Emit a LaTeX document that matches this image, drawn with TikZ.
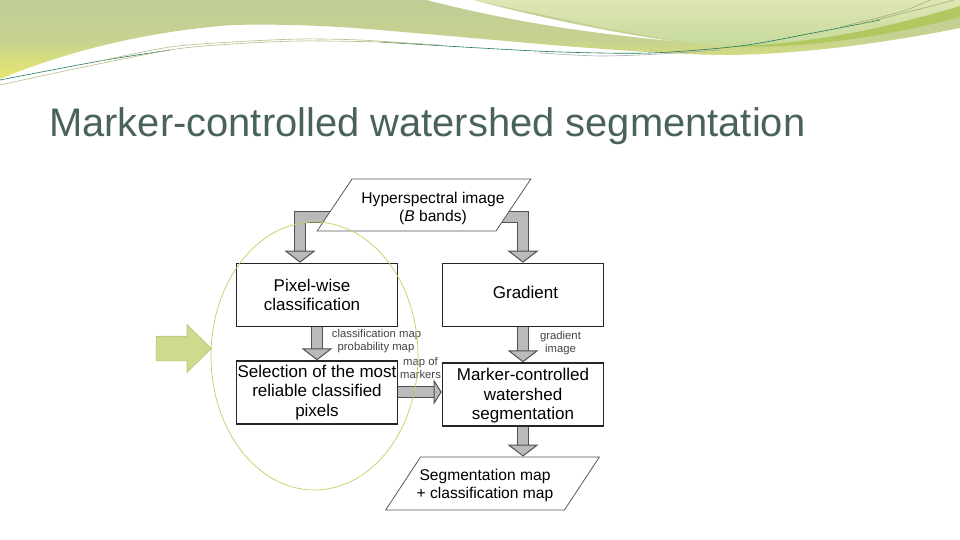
\documentclass[tikz,border=0pt]{standalone}
\usepackage{fontspec}
\setmainfont{Liberation Sans}
\usetikzlibrary{arrows.meta,positioning,backgrounds,shapes.geometric,shapes.arrows}
\definecolor{titlegreen}{HTML}{4A6358}
\definecolor{arrowgray}{HTML}{BABABA}
\definecolor{arrowedge}{HTML}{505050}
\definecolor{ringolive}{HTML}{C2CE5E}
\definecolor{pointerfill}{HTML}{D0DA8E}
\definecolor{pointeredge}{HTML}{B9C672}
\definecolor{labelgray}{HTML}{444444}
\definecolor{bandtop}{HTML}{BFCD96}
\definecolor{bandmid}{HTML}{C6D28F}
\definecolor{bandlow}{HTML}{E6E86E}
\definecolor{paletop}{HTML}{DFE6B5}
\definecolor{palelow}{HTML}{C6DA9B}
\definecolor{leafgreen}{HTML}{B0C85F}
\definecolor{linegreen}{HTML}{1F7A5C}
\definecolor{lineolive}{HTML}{B4BC86}
\definecolor{linegray}{HTML}{A8ADB0}
\definecolor{linesage}{HTML}{9FB27C}
\newcommand{\slanttext}[3]{\makebox[136pt]{\rule[-16.5pt]{0pt}{33pt}\hspace{#1}\smash{\raisebox{#2}{\begin{tabular}{@{}c@{}}#3\end{tabular}}}}}
\tikzset{procbox/.style={draw=black!85, rectangle, line width=1.6pt, minimum width=161pt,
  minimum height=63pt, inner sep=0pt, align=center, font=\fontsize{17}{19.6}\selectfont}}
\tikzset{dataslant/.style={draw=black!65, trapezium, trapezium left angle=45, trapezium right angle=135,
  trapezium stretches=true, fill=white, line width=0.8pt, minimum width=214pt, minimum height=52pt,
  inner sep=0pt, font=\fontsize{15.6}{18}\selectfont}}
\tikzset{blockarrow/.style={draw=arrowedge, line width=1pt, double=arrowgray, double distance=10.5pt,
  -{Triangle[length=12pt, width=31pt, fill=arrowgray, line width=1pt]}}}
\tikzset{maplabel/.style={text=labelgray, inner sep=0pt, align=center, font=\fontsize{11.3}{13}\selectfont}}
\tikzset{thinline/.style={line width=0.6pt}}

\begin{document}
\begin{tikzpicture}[x=1pt, y=-1pt]
  \useasboundingbox (0,0) rectangle (960,540);

  % header bands
  \shade[top color=bandtop, bottom color=bandlow, middle color=bandmid]
    (0,0) -- (960,0) -- (960,28) .. controls (880,44) and (800,54) .. (730,55)
    .. controls (640,55) and (480,38) .. (367,29)
    .. controls (320,25) and (270,24) .. (233,25)
    .. controls (150,31) and (70,50) .. (0,79) -- cycle;
  \shade[top color=paletop, bottom color=palelow]
    (473,0) -- (960,0) -- (960,8) .. controls (880,30) and (800,46) .. (720,46)
    .. controls (690,44) and (660,38) .. (600,27) -- cycle;
  \fill[white] (427,0) -- (473,0) .. controls (540,18) and (620,34) .. (672,41)
    .. controls (600,34) and (520,24) .. (427,0) -- cycle;
  \fill[leafgreen] (960,6) .. controls (880,30) and (800,46) .. (725,46)
    .. controls (800,50) and (890,36) .. (960,17) -- cycle;
  % header lines
  \draw[thinline, linegreen] plot[smooth] coordinates {(0,80) (100,61) (170,50)};
  \draw[thinline, linegreen] plot[smooth] coordinates {(380,42) (480,48) (560,52) (650,53) (740,46) (813,33) (880,20)};
  \draw[thinline, lineolive] plot[smooth] coordinates {(0,85) (60,72) (170,50) (233,44) (300,41) (380,42) (440,45)};
  \draw[thinline, lineolive] plot[smooth] coordinates {(100,61) (170,47) (233,42) (300,39) (360,40) (420,44)};
  \draw[thinline, linegray] plot[smooth] coordinates {(540,53) (600,56) (660,54) (720,50)};
  \draw[thinline, linesage] plot[smooth] coordinates {(840,27) (900,12) (930,0)};
  \draw[thinline, linesage] plot[smooth] coordinates {(860,24) (920,9) (954,0)};

  % title
  \node[text=titlegreen, anchor=base west, inner sep=0pt, font=\fontsize{39.9}{44}\selectfont] (title)
    at (49,136.5) {Marker-controlled watershed segmentation};

  % boxes
  \node[dataslant] (image) at (424,205) {\slanttext{18pt}{-7pt}{Hyperspectral image\\(\textit{B} bands)}};
  \node[procbox] (pixel) at (317,295) {Pixel-wise\hspace*{10pt}\\classification\hspace*{10pt}};
  \node[procbox, right=43.4pt of pixel] (gradient) {\hspace*{5pt}Gradient\rule[-6pt]{0pt}{6pt}};
  \node[procbox, below=33pt of pixel] (select) {Selection of the most\\reliable classified\\pixels};
  \node[procbox, right=43.4pt of select, yshift=-2pt] (marker) {\rule{0pt}{15pt}Marker-controlled\\watershed\\segmentation};
  \node[dataslant, minimum height=53pt] (result) at (492.5,483.5) {\slanttext{-15pt}{-6pt}{Segmentation map\\+ classification map}};

  % block arrows
  \begin{scope}[on background layer]
    \draw[blockarrow] ([yshift=-12pt]image.center) -| ([xshift=-17pt]pixel.north);
    \draw[blockarrow] ([yshift=-12pt]image.center) -| (gradient.north);
    \draw[blockarrow] (pixel) -- (select);
    \draw[blockarrow] (gradient) -- (marker);
    \draw[blockarrow] (marker) -- (result.north -| marker);
    \draw[blockarrow, -{Triangle[length=8pt, width=25pt, fill=arrowgray, line width=1pt]}]
      (select.east |- 0,392) -- (marker.west |- 0,392);
  \end{scope}

  % labels
  \node[maplabel] (mapa) at (376.5,335) {classification map};
  \node[maplabel] (mapb) at (376,348) {probability map};
  \node[maplabel] (mapc) at (420.5,367.5) {map of\\markers};
  \node[maplabel] (mapd) at (560.5,343) {gradient\\image};

  % highlight
  \node[draw=ringolive, ellipse, line width=0.7pt, minimum width=207pt, minimum height=268pt, inner sep=0pt] (ring) at (314.5,356) {};
  \node[single arrow, draw=pointeredge, fill=pointerfill, line width=0.7pt, minimum height=55pt,
    single arrow head extend=11.5pt, single arrow tip angle=89, single arrow head indent=0pt,
    inner xsep=0pt, inner ysep=12pt] (pointer) at (177.5,348.5) {};
\end{tikzpicture}
\end{document}
